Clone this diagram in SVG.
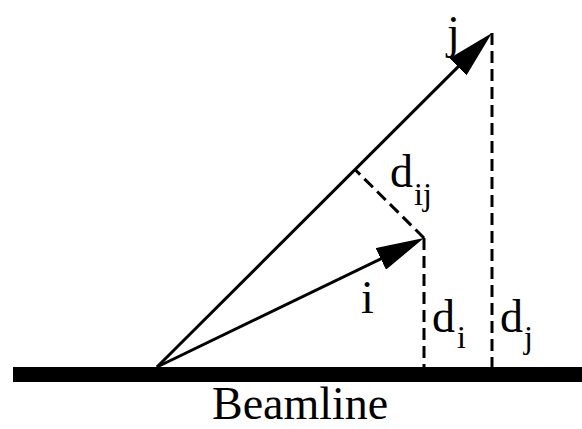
<svg xmlns="http://www.w3.org/2000/svg" width="582" height="429" viewBox="0 0 582 429">
<style>
.vec{stroke:#000;stroke-width:3;fill:none}
.dash{stroke:#000;stroke-width:3;fill:none;stroke-dasharray:12 6}
.t{font-family:"Liberation Serif","Times New Roman",serif;fill:#000}
.big{font-size:46px}
.sub{font-size:32px}
</style>
<defs>
<marker id="ah" viewBox="0 0 48 24" refX="28" refY="12" markerWidth="48" markerHeight="24" markerUnits="userSpaceOnUse" orient="auto">
<path d="M0,0 L48,12 L0,24 Z" fill="#000"/>
</marker>
</defs>
<rect id="beamline" x="13" y="367" width="569" height="15" fill="#000"/>
<g id="connectors">
<line class="vec" x1="157" y1="367" x2="477.8" y2="47.1" marker-end="url(#ah)"/>
<line class="vec" x1="157" y1="367" x2="406" y2="246.7" marker-end="url(#ah)"/>
<line class="dash" x1="492" y1="33" x2="492" y2="367"/>
<line class="dash" x1="424" y1="238" x2="424" y2="367"/>
<line class="dash" x1="424" y1="238" x2="355" y2="169.5"/>
</g>
<g id="label-j"><text class="t big" x="447" y="48">j</text></g>
<g id="label-i"><text class="t big" x="361" y="313">i</text></g>
<g id="label-dij"><text class="t big" x="390" y="187">d</text><text class="t sub" x="414" y="205">ij</text></g>
<g id="label-di"><text class="t big" x="432" y="332">d</text><text class="t sub" x="457" y="348">i</text></g>
<g id="label-dj"><text class="t big" x="500" y="332">d</text><text class="t sub" x="524" y="348">j</text></g>
<g id="label-beamline"><text class="t big" x="212" y="418.5">Beamline</text></g>
</svg>
